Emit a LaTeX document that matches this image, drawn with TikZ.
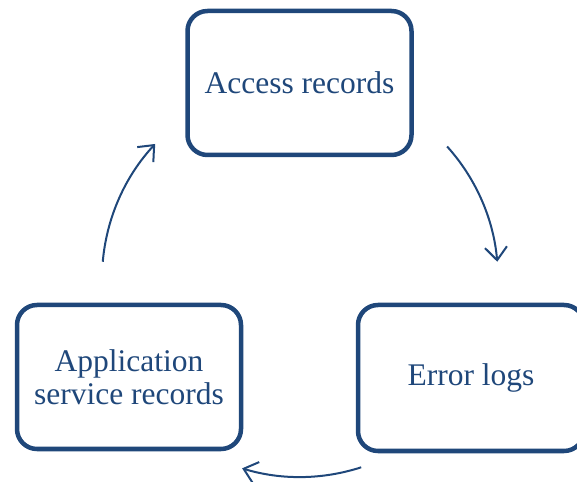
\documentclass[tikz,border=0pt]{standalone}
\usepackage{fontspec}
\setmainfont{Liberation Serif}
\usepackage{tikz}
\usetikzlibrary{calc, positioning, arrows.meta}
\definecolor{recblue}{RGB}{31,71,122}
\tikzstyle{rec}=[draw=recblue, line width=4.5pt, rounded corners=20pt, shape=rectangle, minimum width=224pt, minimum height=144pt, align=center, text=recblue, font=\fontsize{31.5}{33}\selectfont]
\tikzstyle{flow}=[draw=recblue, line width=2pt, ->]
\tikzset{>={Straight Barb[length=13pt,width=22pt]}}

\begin{document}
\begin{tikzpicture}[x=1pt, y=1pt]
\useasboundingbox (0,0) rectangle (577,481);
% the three record boxes
\node[rec] (acc) at (299.5, 398) {Access records};
\node[rec, minimum width=226pt, minimum height=146pt] (err) at (471, 103) {Error logs};
\node[rec] (app) at (129, 104) {Application\\service records};
% the middle of the cycle
\coordinate (mid) at (300, 202);
% the arrows
\draw[flow] ([shift={(42:198)}]mid) arc[start angle=42, end angle=5, radius=198];
\draw[flow] ([shift={(-72:198)}]mid) arc[start angle=-72, end angle=-107, radius=198];
\draw[flow] ([shift={(175:198)}]mid) arc[start angle=175, end angle=137, radius=198];
\end{tikzpicture}
\end{document}
